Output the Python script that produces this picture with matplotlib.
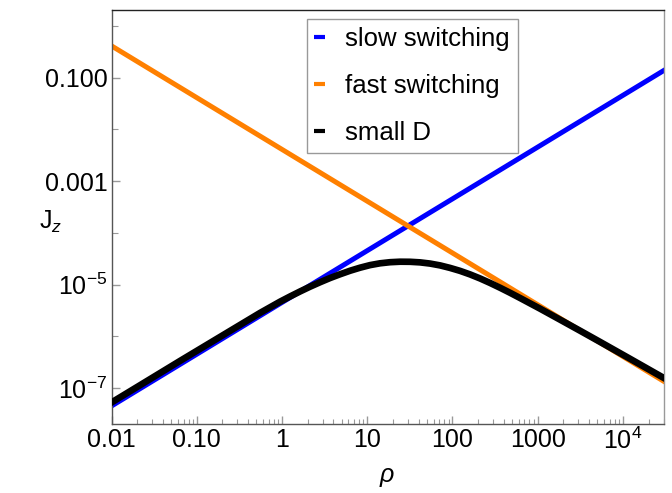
import matplotlib.pyplot as plt
from matplotlib.lines import Line2D
from matplotlib.ticker import FixedLocator, FixedFormatter, LogLocator, NullFormatter

# values (log-log)
rho_slow = [0.01, 30000]
J_slow = [4.55e-8, 0.1365]

rho_fast = [0.01, 30000]
J_fast = [0.41, 1.37e-7]

rho_small = [0.01, 0.02154, 0.0635, 0.2453, 0.5518, 0.9473, 1.241, 1.627, 2.132,
             2.793, 3.660, 4.796, 6.284, 8.232, 10.79, 14.13, 18.52, 24.27, 31.78,
             41.67, 54.59, 71.54, 93.72, 122.8, 160.9, 210.9, 276.3, 362.1, 474.4,
             621.6, 1067, 1832, 3146, 5399, 12150, 30000]
J_small = [5.32e-8, 1.143e-7, 3.37e-7, 1.28e-6, 2.85e-6, 4.70e-6, 5.92e-6, 7.40e-6,
           9.15e-6, 1.115e-5, 1.345e-5, 1.59e-5, 1.86e-5, 2.13e-5, 2.39e-5, 2.59e-5,
           2.72e-5, 2.78e-5, 2.77e-5, 2.70e-5, 2.56e-5, 2.36e-5, 2.11e-5, 1.85e-5,
           1.58e-5, 1.32e-5, 1.081e-5, 8.73e-6, 6.98e-6, 5.53e-6, 3.44e-6, 2.11e-6,
           1.29e-6, 7.85e-7, 3.70e-7, 1.59e-7]

xticks = [0.01, 0.1, 1, 10, 100, 1000, 1e4]
xticklabels = ['0.01', '0.10', '1', '10', '100', '1000', '$10^{4}$']
yticks = [0.1, 1e-3, 1e-5, 1e-7]
yticklabels = ['0.100', '0.001', '$10^{-5}$', '$10^{-7}$']
yminor = [1, 0.01, 1e-4, 1e-6]

names = ['slow switching', 'fast switching', 'small D']
colors = ['#0000ff', '#ff8000', 'black']

plt.rcParams['font.family'] = ['Liberation Sans', 'DejaVu Sans']
plt.rcParams['mathtext.fontset'] = 'custom'
plt.rcParams['mathtext.rm'] = 'Liberation Sans'
plt.rcParams['mathtext.it'] = 'Liberation Sans:italic'
plt.rcParams['mathtext.default'] = 'regular'

fig = plt.figure(figsize=(6.72, 4.93), dpi=100)
ax = fig.add_axes([0.1661, 0.1407, 0.8213, 0.8384])

ax.loglog(rho_slow, J_slow, color=colors[0], lw=3.6, zorder=2)
ax.loglog(rho_fast, J_fast, color=colors[1], lw=3.6, zorder=2)
ax.loglog(rho_small, J_small, color=colors[2], lw=4.8, zorder=3,
          solid_joinstyle='round')

ax.set_xlim(0.01, 30000)
ax.set_ylim(2.07e-8, 2.0)

ax.xaxis.set_major_locator(FixedLocator(xticks))
ax.xaxis.set_major_formatter(FixedFormatter(xticklabels))
ax.xaxis.set_minor_locator(LogLocator(base=10, subs=range(2, 10), numticks=20))
ax.xaxis.set_minor_formatter(NullFormatter())
ax.yaxis.set_major_locator(FixedLocator(yticks))
ax.yaxis.set_major_formatter(FixedFormatter(yticklabels))
ax.yaxis.set_minor_locator(FixedLocator(yminor))
ax.yaxis.set_minor_formatter(NullFormatter())

ax.tick_params(which='both', direction='in', top=False, right=False, color='#999999')
ax.tick_params(which='major', length=6, width=1.0, labelsize=18, pad=3)
ax.tick_params(which='minor', length=3.5, width=0.8)
ax.tick_params(axis='y', which='minor', length=4.5)

for side in ['left', 'bottom']:
    ax.spines[side].set_color('#555555')
ax.spines['top'].set_color('#222222')
ax.spines['right'].set_color('#999999')
for s in ax.spines.values():
    s.set_linewidth(1.0)

ax.set_xlabel(r'$\it{\rho}$', fontsize=18, va='center')
ax.xaxis.set_label_coords(0.5, -0.128)
ax.set_ylabel(r'J$_{\it{z}}$', fontsize=18, rotation=0, va='center', ha='center')
ax.yaxis.set_label_coords(-0.11, 0.488)

handles = [Line2D([], [], color=c, lw=3, solid_capstyle='butt') for c in colors]
leg = ax.legend(handles, names, loc='upper left', bbox_to_anchor=(0.3535, 0.979),
                fontsize=18.5, handlelength=0.4, handletextpad=0.8, labelspacing=0.9,
                borderpad=0.3, fancybox=False, framealpha=1, edgecolor='#999999',
                borderaxespad=0)
leg.get_frame().set_linewidth(1.0)

fig.savefig('out.png', dpi=100)
